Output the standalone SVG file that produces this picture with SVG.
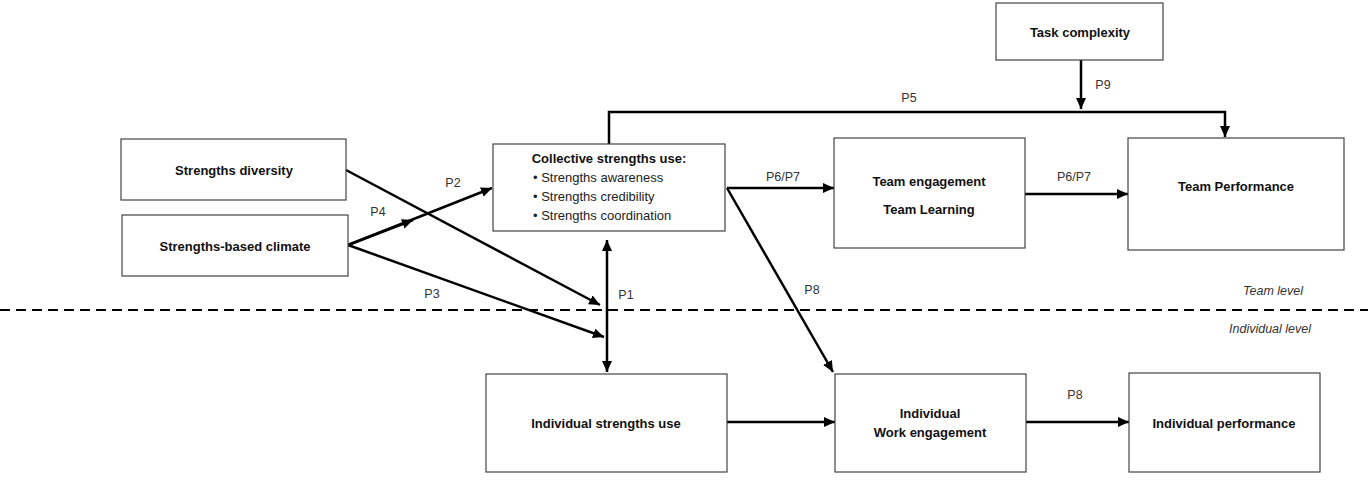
<svg xmlns="http://www.w3.org/2000/svg" width="1368" height="480" viewBox="0 0 1368 480">
<style>
.box{fill:#fff;stroke:#444;stroke-width:1.2}
.t{font-family:"Liberation Sans",Arial,sans-serif;font-size:13px;font-weight:bold;fill:#111;text-anchor:middle}
.b{font-family:"Liberation Sans",Arial,sans-serif;font-size:13px;fill:#222}
.l{font-family:"Liberation Sans",Arial,sans-serif;font-size:12.5px;fill:#333;text-anchor:middle}
.i{font-family:"Liberation Sans",Arial,sans-serif;font-size:12.5px;font-style:italic;fill:#333;text-anchor:middle}
.c{fill:none;stroke:#000;stroke-width:2.5}
</style>
<defs>
<marker id="ah" markerUnits="userSpaceOnUse" markerWidth="12" markerHeight="10" refX="11" refY="5" orient="auto-start-reverse">
<path d="M0,0 L11,5 L0,10 z" fill="#000"/>
</marker>
</defs>
<rect width="1368" height="480" fill="#fff"/>
<line x1="0" y1="310" x2="1368" y2="310" stroke="#000" stroke-width="2" stroke-dasharray="10 6"/>
<text class="i" x="1273" y="295">Team level</text>
<text class="i" x="1270" y="333">Individual level</text>

<g id="connectors">
<path class="c" d="M346,170 L600,305" marker-end="url(#ah)"/>
<path class="c" d="M348,245 L604,337" marker-end="url(#ah)"/>
<path class="c" d="M348,245 L492,188" marker-end="url(#ah)"/>
<path class="c" d="M348,245 L413,220" marker-end="url(#ah)"/>
<path class="c" d="M607,240 L607,372" marker-start="url(#ah)" marker-end="url(#ah)"/>
<path class="c" d="M609,144 L609,112 L1225,112 L1225,137" marker-end="url(#ah)"/>
<path class="c" d="M1081,60 L1081,109" marker-end="url(#ah)"/>
<path class="c" d="M727,188 L834,188" marker-end="url(#ah)"/>
<path class="c" d="M727,188 L833,372" marker-end="url(#ah)"/>
<path class="c" d="M1025,194 L1128,194" marker-end="url(#ah)"/>
<path class="c" d="M727,422 L835,422" marker-end="url(#ah)"/>
<path class="c" d="M1026,422 L1129,422" marker-end="url(#ah)"/>
<text class="l" x="453" y="187">P2</text>
<text class="l" x="378" y="216">P4</text>
<text class="l" x="432" y="298">P3</text>
<text class="l" x="626" y="299">P1</text>
<text class="l" x="909" y="102">P5</text>
<text class="l" x="1103" y="89">P9</text>
<text class="l" x="783" y="181">P6/P7</text>
<text class="l" x="1074" y="181">P6/P7</text>
<text class="l" x="812" y="294">P8</text>
<text class="l" x="1075" y="399">P8</text>
</g>

<g id="strengths-diversity">
<rect class="box" x="121" y="139" width="225" height="61"/>
<text class="t" x="234" y="175">Strengths diversity</text>
</g>
<g id="strengths-climate">
<rect class="box" x="122" y="215" width="226" height="61"/>
<text class="t" x="235" y="251">Strengths-based climate</text>
</g>
<g id="collective">
<rect class="box" x="493" y="144" width="232" height="87"/>
<text class="t" x="609" y="163">Collective strengths use:</text>
<text class="b" x="533" y="182">• Strengths awareness</text>
<text class="b" x="533" y="201">• Strengths credibility</text>
<text class="b" x="533" y="220">• Strengths coordination</text>
</g>
<g id="task-complexity">
<rect class="box" x="996" y="3" width="167" height="57"/>
<text class="t" x="1080" y="37">Task complexity</text>
</g>
<g id="team-engagement">
<rect class="box" x="834" y="138" width="191" height="110"/>
<text class="t" x="929" y="186">Team engagement</text>
<text class="t" x="929" y="214">Team Learning</text>
</g>
<g id="team-performance">
<rect class="box" x="1128" y="138" width="216" height="112"/>
<text class="t" x="1236" y="191">Team Performance</text>
</g>
<g id="individual-strengths">
<rect class="box" x="486" y="374" width="241" height="98"/>
<text class="t" x="606" y="428">Individual strengths use</text>
</g>
<g id="work-engagement">
<rect class="box" x="835" y="374" width="191" height="98"/>
<text class="t" x="930" y="418">Individual</text>
<text class="t" x="930" y="437">Work engagement</text>
</g>
<g id="individual-performance">
<rect class="box" x="1129" y="373" width="191" height="99"/>
<text class="t" x="1224" y="428">Individual performance</text>
</g>
</svg>
